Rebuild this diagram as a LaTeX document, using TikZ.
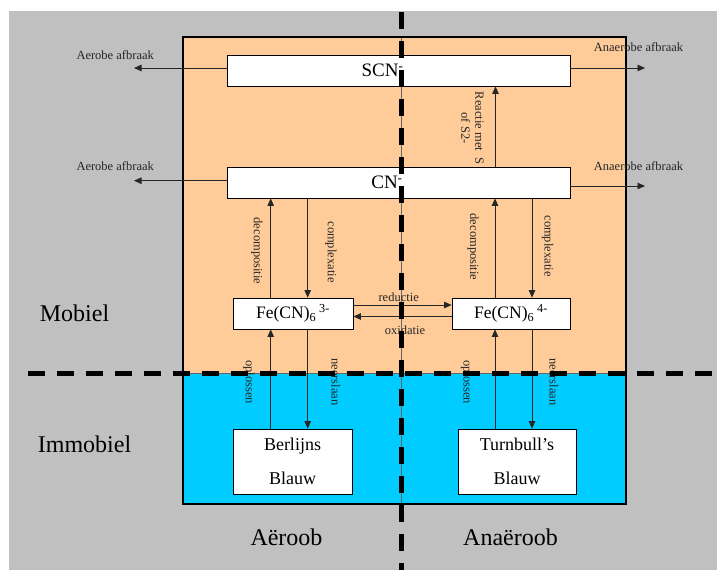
\documentclass[tikz,border=0pt]{standalone}
\usepackage{fontspec}
\setmainfont{Liberation Serif}
\usepackage{xcolor}
\definecolor{bggray}{RGB}{192,192,192}
\definecolor{mobcolor}{RGB}{255,204,153}
\definecolor{immobcolor}{RGB}{0,204,255}
\usetikzlibrary{arrows.meta}

\begin{document}
\begin{tikzpicture}[x=1pt, y=-1pt,
  box/.style={draw, fill=white, line width=0.8pt, inner sep=0pt},
  conn/.style={-{Triangle[length=7.5pt, width=6.5pt]}, line width=0.8pt, black!85},
  lbl/.style={font=\fontsize{12.5}{14}\selectfont, text=black!85},
  vlbl/.style={lbl, rotate=-90, align=center},
  zone/.style={font=\fontsize{24}{28}\selectfont, anchor=base},
  divider/.style={line width=5pt, dash pattern=on 17pt off 12pt}]
  \useasboundingbox (0,0) rectangle (717,570);

  % Background
  \fill[white] (0,0) rectangle (717,570);
  \fill[bggray] (9,11) rectangle (717,570);
  \fill[mobcolor] (183,37) rectangle (626,373);
  \fill[immobcolor] (183,373) rectangle (626,504);
  \draw[black!60, line width=0.6pt] (183,373) -- (626,373);
  \draw[black!60, line width=0.6pt] (401.5,37) -- (401.5,504);
  \draw[line width=1.2pt] (183,37) rectangle (626,504);

  % Boxes
  \node[box, minimum width=343pt, minimum height=31pt, font=\fontsize{19}{20}\selectfont] (scn) at (398.5,70.5) {SCN\textsuperscript{-}\hspace*{32pt}};
  \node[box, minimum width=343pt, minimum height=31pt, font=\fontsize{19}{20}\selectfont] (cn) at (398.5,182.5) {CN\textsuperscript{-}\hspace*{23pt}};
  \node[box, minimum width=120pt, minimum height=31pt, font=\fontsize{17.5}{20}\selectfont] (fe3) at (293,313.5) {Fe(CN)\textsubscript{6}\,\textsuperscript{3-}};
  \node[box, minimum width=118pt, minimum height=31pt, font=\fontsize{17.5}{20}\selectfont] (fe4) at (511,313.5) {Fe(CN)\textsubscript{6}\,\textsuperscript{4-}};
  \node[box, minimum width=119pt, minimum height=65pt, align=center, font=\fontsize{18}{34}\selectfont] (berlijns) at (292.5,461.5) {Berlijns\\Blauw};
  \node[box, minimum width=118pt, minimum height=65pt, align=center, font=\fontsize{18}{34}\selectfont] (turnbull) at (517,461.5) {Turnbull's\\Blauw};

  % Afbraak
  \coordinate (scnL) at (134,68);
  \coordinate (scnR) at (645,68);
  \coordinate (cnL) at (134,180.7);
  \coordinate (cnR) at (645,186);
  \draw[conn] (scn.west |- scnL) -- (scnL);
  \draw[conn] (scn.east |- scnR) -- (scnR);
  \draw[conn] (cn.west |- cnL) -- (cnL);
  \draw[conn] (cn.east |- cnR) -- (cnR);
  \node[lbl, anchor=base] (aerobeS) at (115.2,59) {Aerobe afbraak};
  \node[lbl, anchor=base] (aerobeC) at (115.2,170.7) {Aerobe afbraak};
  \node[lbl, anchor=base] (anaerobeS) at (638.5,51.7) {Anaerobe afbraak};
  \node[lbl, anchor=base] (anaerobeC) at (638.5,170) {Anaerobe afbraak};

  % CN -> SCN
  \draw[conn] ([xshift=97pt]cn.north) -- ([xshift=97pt]scn.south);
  \node[vlbl] (reactie) at (472.5,128) {Reactie met\ \ S\\of S2-};

  % CN <-> Fe(CN)6
  \draw[conn] ([xshift=-22.3pt]fe3.north) -- ([xshift=-22.3pt]fe3.north |- cn.south);
  \draw[conn] ([xshift=14.7pt]fe3.north |- cn.south) -- ([xshift=14.7pt]fe3.north);
  \draw[conn] ([xshift=-16pt]fe4.north) -- ([xshift=-16pt]fe4.north |- cn.south);
  \draw[conn] ([xshift=21pt]fe4.north |- cn.south) -- ([xshift=21pt]fe4.north);
  \node[vlbl] (decomp3) at (257,251) {decompositie};
  \node[vlbl] (complex3) at (331,252) {complexatie};
  \node[vlbl] (decomp4) at (473,247) {decompositie};
  \node[vlbl] (complex4) at (547.5,246) {complexatie};

  % Redox
  \draw[conn] ([yshift=8.5pt]fe3.east) -- ([yshift=8.5pt]fe3.east -| fe4.west);
  \draw[conn] ([yshift=-3pt]fe4.west) -- ([yshift=-3pt]fe4.west -| fe3.east);
  \node[lbl, anchor=base] (reductie) at (398.7,301.7) {reductie};
  \node[lbl, anchor=base] (oxidatie) at (405,334.5) {oxidatie};

  % Fe(CN)6 <-> Blauw
  \draw[conn] ([xshift=-22.3pt]fe3.south |- berlijns.north) -- ([xshift=-22.3pt]fe3.south);
  \draw[conn] ([xshift=14.7pt]fe3.south) -- ([xshift=14.7pt]fe3.south |- berlijns.north);
  \draw[conn] ([xshift=-16pt]fe4.south |- turnbull.north) -- ([xshift=-16pt]fe4.south);
  \draw[conn] ([xshift=21pt]fe4.south) -- ([xshift=21pt]fe4.south |- turnbull.north);
  \foreach \x/\name/\txt in {249/oplos3/oplossen, 336/neer3/neerslaan, 466.5/oplos4/oplossen, 554/neer4/neerslaan}
    \node[vlbl] (\name) at (\x,382) {\txt};

  % Zones
  \node[zone] (mobiel) at (74.5,321) {Mobiel};
  \node[zone] (immobiel) at (84.5,452) {Immobiel};
  \node[zone] (aeroob) at (286.5,545) {Aëroob};
  \node[zone] (anaeroob) at (510.5,545) {Anaëroob};

  % Dividers
  \draw[divider] (28,373.5) -- (717,373.5);
  \draw[divider] (401.5,12) -- (401.5,570);
\end{tikzpicture}
\end{document}
